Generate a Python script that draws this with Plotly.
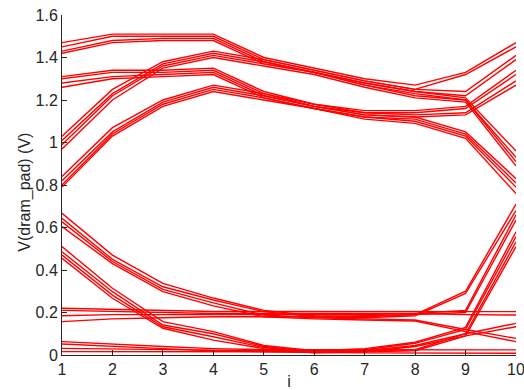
import plotly.graph_objects as go

# Step index along the x axis
steps = [1, 2, 3, 4, 5, 6, 7, 8, 9, 10]

# V(dram_pad) per sweep, grouped by starting level (four runs per group)
group_a = [
    [1.47, 1.51, 1.51, 1.51, 1.40, 1.35, 1.30, 1.27, 1.33, 1.47],
    [1.45, 1.50, 1.50, 1.50, 1.39, 1.34, 1.29, 1.25, 1.32, 1.45],
    [1.43, 1.48, 1.49, 1.49, 1.38, 1.33, 1.28, 1.24, 1.21, 0.96],
    [1.42, 1.47, 1.48, 1.48, 1.37, 1.33, 1.27, 1.23, 1.20, 0.93],
]
group_b = [
    [1.31, 1.34, 1.34, 1.35, 1.24, 1.18, 1.15, 1.15, 1.17, 1.34],
    [1.30, 1.33, 1.33, 1.34, 1.23, 1.17, 1.14, 1.14, 1.16, 1.32],
    [1.28, 1.31, 1.32, 1.33, 1.22, 1.17, 1.13, 1.12, 1.05, 0.83],
    [1.26, 1.30, 1.31, 1.32, 1.21, 1.16, 1.12, 1.11, 1.04, 0.81],
]
group_c = [
    [1.03, 1.25, 1.38, 1.43, 1.39, 1.34, 1.29, 1.25, 1.24, 1.41],
    [1.01, 1.23, 1.37, 1.42, 1.38, 1.33, 1.28, 1.24, 1.22, 1.39],
    [0.99, 1.22, 1.36, 1.41, 1.37, 1.33, 1.27, 1.22, 1.20, 0.91],
    [0.97, 1.20, 1.35, 1.40, 1.36, 1.32, 1.26, 1.21, 1.19, 0.89],
]
group_d = [
    [0.84, 1.07, 1.20, 1.27, 1.23, 1.18, 1.14, 1.13, 1.14, 1.29],
    [0.82, 1.05, 1.19, 1.26, 1.22, 1.17, 1.13, 1.12, 1.13, 1.27],
    [0.80, 1.04, 1.18, 1.25, 1.21, 1.16, 1.12, 1.10, 1.03, 0.79],
    [0.79, 1.03, 1.17, 1.24, 1.20, 1.16, 1.11, 1.09, 1.02, 0.76],
]
group_e = [
    [0.667, 0.47, 0.337, 0.268, 0.210, 0.185, 0.180, 0.190, 0.30, 0.710],
    [0.643, 0.45, 0.321, 0.259, 0.204, 0.180, 0.175, 0.185, 0.29, 0.680],
    [0.627, 0.44, 0.309, 0.245, 0.188, 0.175, 0.170, 0.165, 0.12, 0.078],
    [0.604, 0.43, 0.298, 0.231, 0.180, 0.170, 0.165, 0.160, 0.11, 0.063],
]
group_f = [
    [0.510, 0.314, 0.157, 0.110, 0.045, 0.020, 0.030, 0.060, 0.13, 0.580],
    [0.486, 0.298, 0.141, 0.100, 0.040, 0.015, 0.025, 0.055, 0.12, 0.557],
    [0.470, 0.282, 0.133, 0.086, 0.035, 0.012, 0.020, 0.045, 0.10, 0.149],
    [0.455, 0.267, 0.126, 0.070, 0.030, 0.010, 0.015, 0.040, 0.09, 0.133],
]
group_g = [
    [0.220, 0.215, 0.210, 0.205, 0.205, 0.205, 0.205, 0.205, 0.205, 0.204],
    [0.210, 0.205, 0.200, 0.195, 0.195, 0.195, 0.195, 0.195, 0.190, 0.188],
    [0.185, 0.190, 0.190, 0.190, 0.190, 0.190, 0.190, 0.195, 0.210, 0.660],
    [0.157, 0.170, 0.175, 0.180, 0.180, 0.180, 0.185, 0.190, 0.200, 0.635],
]
group_h = [
    [0.063, 0.050, 0.040, 0.030, 0.025, 0.025, 0.025, 0.025, 0.025, 0.024],
    [0.052, 0.040, 0.030, 0.020, 0.015, 0.012, 0.010, 0.010, 0.010, 0.008],
    [0.031, 0.028, 0.025, 0.022, 0.020, 0.020, 0.020, 0.025, 0.100, 0.533],
    [0.016, 0.015, 0.015, 0.015, 0.015, 0.015, 0.015, 0.020, 0.090, 0.510],
]

y_ticks = [0, 0.2, 0.4, 0.6, 0.8, 1, 1.2, 1.4, 1.6]
y_tick_text = ["0", "0.2", "0.4", "0.6", "0.8", "1", "1.2", "1.4", "1.6"]

fig = go.Figure()
for group in (group_a, group_b, group_c, group_d,
              group_e, group_f, group_g, group_h):
    for run in group:
        fig.add_trace(go.Scatter(
            x=steps, y=run, mode="lines",
            line=dict(color="#ff0000", width=1.4),
            showlegend=False, hoverinfo="skip",
        ))

axis_color = "#262626"
font_family = "Liberation Sans, Arial, sans-serif"

fig.update_layout(
    width=524, height=390,
    margin=dict(l=62, r=8, t=15, b=35),
    paper_bgcolor="white", plot_bgcolor="white",
    font=dict(family=font_family, size=16, color=axis_color),
    xaxis=dict(
        range=[1, 10], tickvals=steps, ticks="inside", ticklen=5,
        tickcolor=axis_color, showline=True, linecolor=axis_color,
        linewidth=1, showgrid=False, zeroline=False, mirror=False,
        automargin=False, ticklabeloverflow="allow",
        title=dict(text="i", font=dict(size=16)),
        tickfont=dict(size=16),
    ),
    yaxis=dict(
        range=[0, 1.6], tickvals=y_ticks, ticktext=y_tick_text,
        ticks="inside", ticklen=5, tickcolor=axis_color,
        showline=True, linecolor=axis_color, linewidth=1,
        showgrid=False, zeroline=False, mirror=False,
        automargin=False, ticklabeloverflow="allow",
        tickfont=dict(size=16),
    ),
    annotations=[dict(
        text="V(dram_pad) (V)", textangle=-90, showarrow=False,
        xref="paper", yref="paper", x=-0.081, y=0.478,
        xanchor="center", yanchor="middle",
        font=dict(size=16, color=axis_color),
    )],
)

fig.write_html("out.html")
